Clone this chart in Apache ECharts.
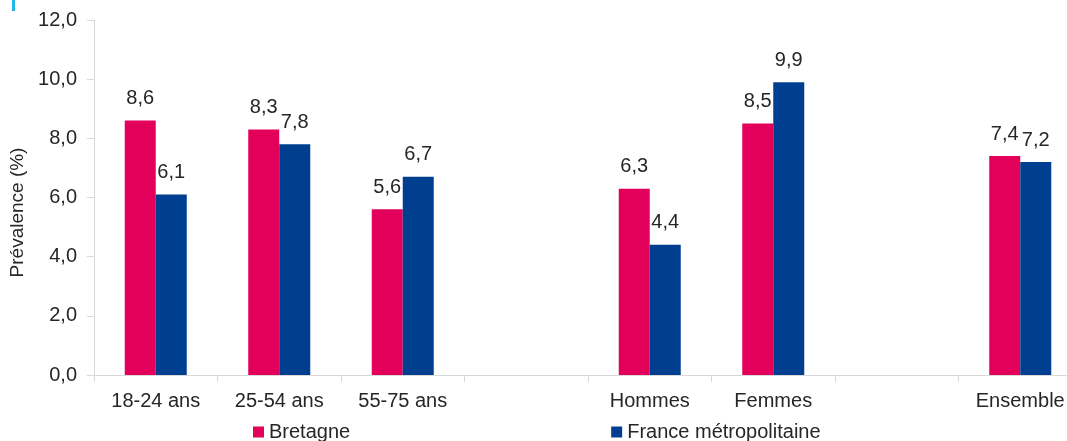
<!DOCTYPE html>
<html>
<head>
<meta charset="utf-8">
<script src="https://cdn.jsdelivr.net/npm/echarts@6/dist/echarts.min.js"></script>
<style>
html,body{margin:0;padding:0;background:#fff;overflow:hidden;width:1067px;height:441px;}
#chart{width:1082px;height:441px;}
</style>
</head>
<body>
<div id="chart"></div>
<script>
var categories = ['18-24 ans', '25-54 ans', '55-75 ans', '', 'Hommes', 'Femmes', '', 'Ensemble'];
var bretagne = [8.6, 8.3, 5.6, null, 6.3, 8.5, null, 7.4];
var france = [6.1, 7.8, 6.7, null, 4.4, 9.9, null, 7.2];
var seriesNames = ['Bretagne', 'France métropolitaine'];
var yTicks = [0, 2, 4, 6, 8, 10, 12];
var yAxisTitle = 'Prévalence (%)';

function fr(v) { return Number(v).toFixed(1).replace('.', ','); }

var chart = echarts.init(document.getElementById('chart'));
var fontFam = '"Liberation Sans", Arial, sans-serif';
var labelStyle = {
  show: true, position: 'top', distance: 12,
  fontSize: 20, color: '#262626', fontFamily: fontFam,
  formatter: function (p) { return p.value == null ? '' : fr(p.value); }
};
chart.setOption({
  animation: false,
  textStyle: { fontFamily: fontFam },
  grid: { left: 94, right: 0, top: 20, bottom: 66, containLabel: false },
  legend: {
    data: seriesNames,
    left: 253, top: 422, padding: 0,
    itemWidth: 11, itemHeight: 11, itemGap: 261,
    icon: 'rect',
    textStyle: { fontSize: 20, color: '#262626', fontFamily: fontFam }
  },
  xAxis: {
    type: 'category',
    data: categories,
    axisLine: { lineStyle: { color: '#d9d9d9', width: 1 } },
    axisTick: { show: true, length: 7, alignWithLabel: false, lineStyle: { color: '#d9d9d9' } },
    axisLabel: { fontSize: 20, color: '#262626', margin: 16, interval: 0, fontFamily: fontFam },
    splitLine: { show: false }
  },
  yAxis: {
    type: 'value',
    min: yTicks[0], max: yTicks[yTicks.length - 1], interval: 2,
    name: yAxisTitle,
    nameLocation: 'middle',
    nameGap: 58,
    nameRotate: 90,
    nameTextStyle: { fontSize: 19, color: '#262626', fontFamily: fontFam, padding: [0, 30, 0, 0] },
    axisLine: { show: true, lineStyle: { color: '#d9d9d9', width: 1 } },
    axisTick: { show: true, length: 7, lineStyle: { color: '#d9d9d9' } },
    axisLabel: { fontSize: 20, color: '#262626', margin: 17, fontFamily: fontFam, formatter: function (v) { return fr(v); } },
    splitLine: { show: false }
  },
  series: [
    { name: seriesNames[0], type: 'bar', data: bretagne, barWidth: 31, barGap: '0%',
      itemStyle: { color: '#E3005A' }, label: labelStyle },
    { name: seriesNames[1], type: 'bar', data: france, barWidth: 31, barGap: '0%',
      itemStyle: { color: '#003F8F' }, label: labelStyle }
  ],
  graphic: [
    { type: 'rect', left: 12, top: 0, shape: { width: 3, height: 11 }, style: { fill: '#25B4E8' } }
  ]
});
</script>
</body>
</html>
